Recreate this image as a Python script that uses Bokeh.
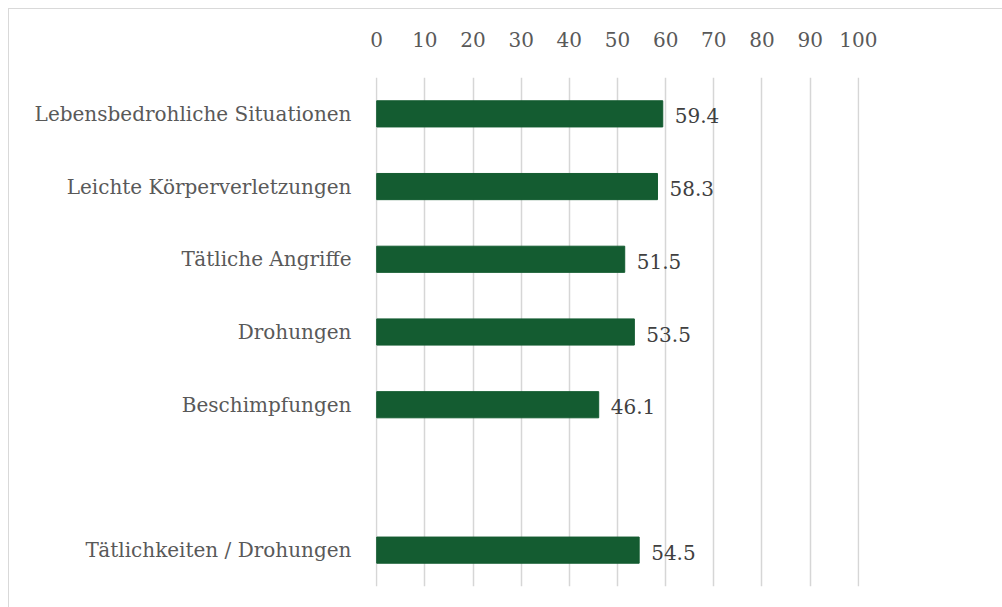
from bokeh.plotting import figure
from bokeh.models import ColumnDataSource, FactorRange, Range1d, FixedTicker, LabelSet
from bokeh.embed import file_html
from bokeh.resources import INLINE
from bokeh.core.properties import value

categories = ["Lebensbedrohliche Situationen", "Leichte Körperverletzungen", "Tätliche Angriffe",
              "Drohungen", "Beschimpfungen", " ", "Tätlichkeiten / Drohungen"]
values = [59.4, 58.3, 51.5, 53.5, 46.1, None, 54.5]
labels = ["59.4", "58.3", "51.5", "53.5", "46.1", "", "54.5"]
x_ticks = [0, 10, 20, 30, 40, 50, 60, 70, 80, 90, 100]

FONT = "DejaVu Serif"
FS = "20px"

bar_cats = [c for c, v in zip(categories, values) if v is not None]
bar_vals = [v for v in values if v is not None]
bar_labels = [l for l, v in zip(labels, values) if v is not None]
src = ColumnDataSource(dict(cat=bar_cats, val=bar_vals, lab=bar_labels))

p = figure(width=994, height=599, output_backend="svg", toolbar_location=None,
           y_range=FactorRange(factors=list(reversed(categories)), range_padding=0),
           x_range=Range1d(-0.25, 100.25), x_axis_location="above",
           min_border_left=366, min_border_right=144, min_border_top=68, min_border_bottom=22,
           margin=(8, 0, 0, 8))
p.styles = {"border-top": "1px solid #d9d9d9", "border-left": "1px solid #d9d9d9"}
p.outline_line_color = None
p.background_fill_color = "white"

p.hbar(y="cat", right="val", left=0, height=0.36, source=src,
       fill_color="#145c31", line_color="#145c31")

lbl = LabelSet(x="val", y="cat", text="lab", source=src, x_offset=12, y_offset=-2,
               text_align="left", text_baseline="middle", text_font=value(FONT),
               text_font_size=FS, text_color="#404040")
p.add_layout(lbl)

xa = p.xaxis[0]
xa.ticker = FixedTicker(ticks=x_ticks)
xa.axis_line_color = None
xa.major_tick_line_color = None
xa.minor_tick_line_color = None
xa.major_label_text_font = FONT
xa.major_label_text_font_size = FS
xa.major_label_text_color = "#595959"
xa.major_label_standoff = 25

ya = p.yaxis[0]
ya.axis_line_color = None
ya.major_tick_line_color = None
ya.minor_tick_line_color = None
ya.major_label_text_font = FONT
ya.major_label_text_font_size = FS
ya.major_label_text_color = "#595959"
ya.major_label_standoff = 18

p.xgrid.ticker = FixedTicker(ticks=x_ticks)
p.xgrid.grid_line_color = "#d6d6d6"
p.xgrid.grid_line_width = 1.5
p.ygrid.grid_line_color = None

open("out.html", "w").write(file_html(p, INLINE))
